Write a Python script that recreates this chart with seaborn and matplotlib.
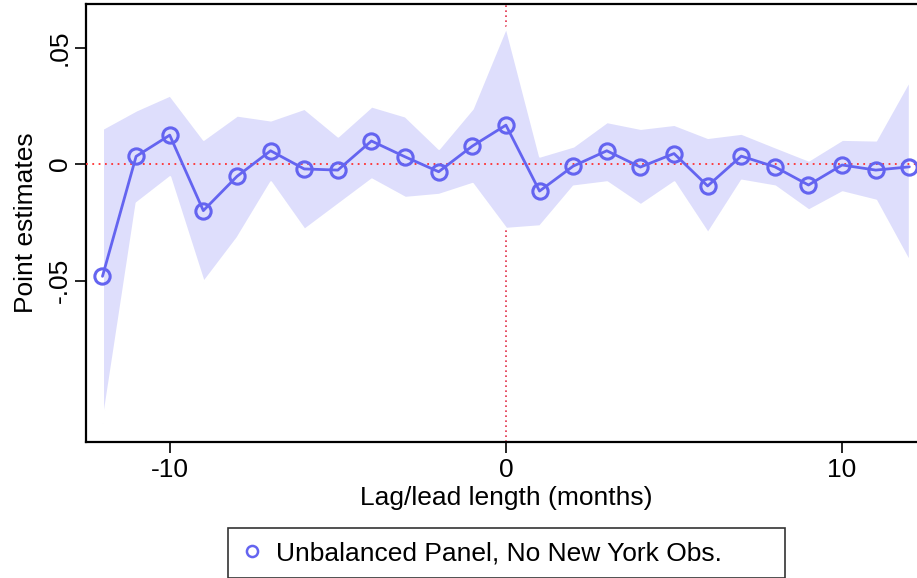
import numpy as np
import pandas as pd
import matplotlib
matplotlib.use("Agg")
import matplotlib.pyplot as plt
import seaborn as sns
from matplotlib.lines import Line2D

lags = [-12, -11, -10, -9, -8, -7, -6, -5, -4, -3, -2, -1, 0,
        1, 2, 3, 4, 5, 6, 7, 8, 9, 10, 11, 12]
estimates = [-0.0482, 0.0033, 0.0124, -0.0200, -0.0053, 0.0057, -0.0021, -0.0026, 0.0099,
             0.0031, -0.0033, 0.0077, 0.0167,
             -0.0116, -0.0009, 0.0057, -0.0013, 0.0045, -0.0094, 0.0034, -0.0012, -0.0090,
             -0.0004, -0.0026, -0.0012]
upper = [0.0153, 0.0232, 0.0296, 0.0106, 0.0210, 0.0189, 0.0239, 0.0120, 0.0249,
         0.0206, 0.0067, 0.0239, 0.0589,
         0.0034, 0.0077, 0.0182, 0.0153, 0.0170, 0.0114, 0.0132, 0.0074, 0.0017,
         0.0106, 0.0103, 0.0361]
lower = [-0.1112, -0.0166, -0.0054, -0.0505, -0.0315, -0.0076, -0.0280, -0.0172, -0.0064,
         -0.0143, -0.0130, -0.0083, -0.0276,
         -0.0265, -0.0094, -0.0076, -0.0174, -0.0076, -0.0295, -0.0069, -0.0094, -0.0197,
         -0.0119, -0.0155, -0.0419]
series_label = "Unbalanced Panel, No New York Obs."
xticks = [-10, 0, 10]
yticks = [-0.05, 0, 0.05]
ytick_labels = ["-.05", "0", ".05"]

df = pd.DataFrame({"lag": lags, "est": estimates, "lo": lower, "hi": upper})

sns.set_style("white")
plt.rcParams["font.family"] = ["Liberation Sans", "DejaVu Sans"]
plt.rcParams["text.color"] = "black"
plt.rcParams["axes.labelcolor"] = "black"
plt.rcParams["xtick.color"] = "black"
plt.rcParams["ytick.color"] = "black"

fs = 19

fig = plt.figure(figsize=(9.17, 5.78), dpi=100)
ax = fig.add_axes([86 / 917, 1 - 441.5 / 578, (917 - 86) / 917 + 0.01, (441.5 - 4) / 578])

line_col = "#6464f0"
band_col = "#dedefc"

ax.axvline(0, color="#e0304a", linestyle=(0, (1, 2)), linewidth=1.2, zorder=1)
ax.fill_between(df["lag"], df["lo"], df["hi"], color=band_col, edgecolor="white",
                linewidth=1.5, zorder=2)
ax.axhline(0, color="#ff3030", linestyle=(0, (1, 2.5)), linewidth=1.3, zorder=3)
sns.lineplot(data=df, x="lag", y="est", ax=ax, color=line_col, linewidth=2,
             marker="o", markersize=11, markerfacecolor="none",
             markeredgecolor=line_col, markeredgewidth=2.2, zorder=4,
             label=series_label, legend=False)

ax.set_xlim(-12.49, 12.5)
ax.set_ylim(-0.1191, 0.0687)
ax.set_xticks(xticks)
ax.set_xticklabels([str(t) for t in xticks], fontsize=fs)
ax.set_yticks(yticks)
ax.set_yticklabels(ytick_labels, fontsize=fs, rotation=90, va="center")
ax.tick_params(axis="both", direction="out", length=8, width=1.2, color="black",
               left=True, bottom=True, pad=4)
ax.tick_params(axis="y", pad=2)
ax.set_xlabel("Lag/lead length (months)", fontsize=fs, labelpad=3)
ax.set_ylabel("Point estimates", fontsize=fs, labelpad=7)

for side in ["left", "bottom", "top"]:
    ax.spines[side].set_color("black")
    ax.spines[side].set_linewidth(1.6)
ax.spines["right"].set_visible(False)

handle = Line2D([], [], linestyle="none", marker="o", markersize=8,
                markerfacecolor="none", markeredgecolor=line_col, markeredgewidth=1.8)
leg = fig.legend([handle], [series_label], loc="center", mode="expand",
                 bbox_to_anchor=(228 / 917, 1 - 577 / 578, 557 / 917, 48 / 578),
                 fontsize=fs, frameon=True, fancybox=False, handletextpad=0.5,
                 borderpad=0.5, handlelength=0.8, borderaxespad=0)
leg.get_frame().set_edgecolor("black")
leg.get_frame().set_linewidth(1.2)

fig.savefig("out.png", dpi=100, facecolor="white")
